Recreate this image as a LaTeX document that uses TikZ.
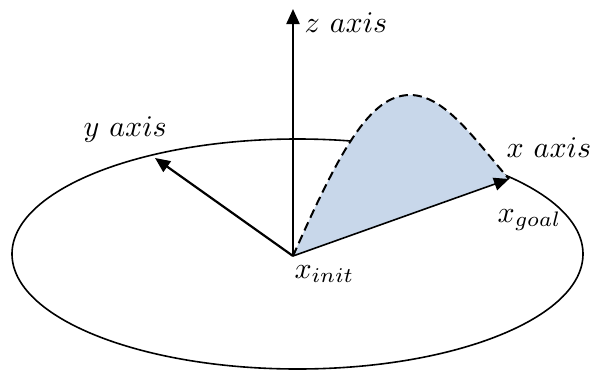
\documentclass[tikz,border=0pt]{standalone}
\usetikzlibrary{arrows.meta}
\definecolor{fillblue}{RGB}{200,215,234}
\tikzset{
  axisline/.style={line width=2.2pt,-{Triangle[length=15pt,width=13pt]}},
  lbl/.style={inner sep=0pt,anchor=base west,scale=3,transform shape},
  pathline/.style={line width=2pt,dash pattern=on 9pt off 5pt}
}
\begin{document}
\begin{tikzpicture}[x=1pt,y=-1pt]
\useasboundingbox (0,0) rectangle (592,370);
% floor ellipse
\draw[line width=1.6pt] (297.5,254) ellipse [x radius=285.5,y radius=115];
% coordinates
\coordinate (O) at (293,256);
\coordinate (Z) at (293,9);
\coordinate (Y) at (155,158);
\coordinate (X) at (509,179);
% shaded region under the path
\fill[fillblue] (O) .. controls (340,150) and (370,95) .. (410,95)
  .. controls (445,95) and (475,140) .. (X) -- cycle;
\draw[pathline] (O) .. controls (340,150) and (370,95) .. (410,95)
  .. controls (445,95) and (475,140) .. (X);
% axes
\draw[axisline] (O) -- (Z);
\draw[axisline] (O) -- (Y);
\draw[axisline,line width=1.6pt] (O) -- (X);
% labels
\node[lbl] (zl) at (304,32) {$z\ axis$};
\node[lbl] (yl) at (83,136) {$y\ axis$};
\node[lbl] (xl) at (506,157) {$x\ axis$};
\node[lbl] (xg) at (497,222) {$x_{goal}$};
\node[lbl] (xi) at (294,278) {$x_{init}$};
\end{tikzpicture}
\end{document}
